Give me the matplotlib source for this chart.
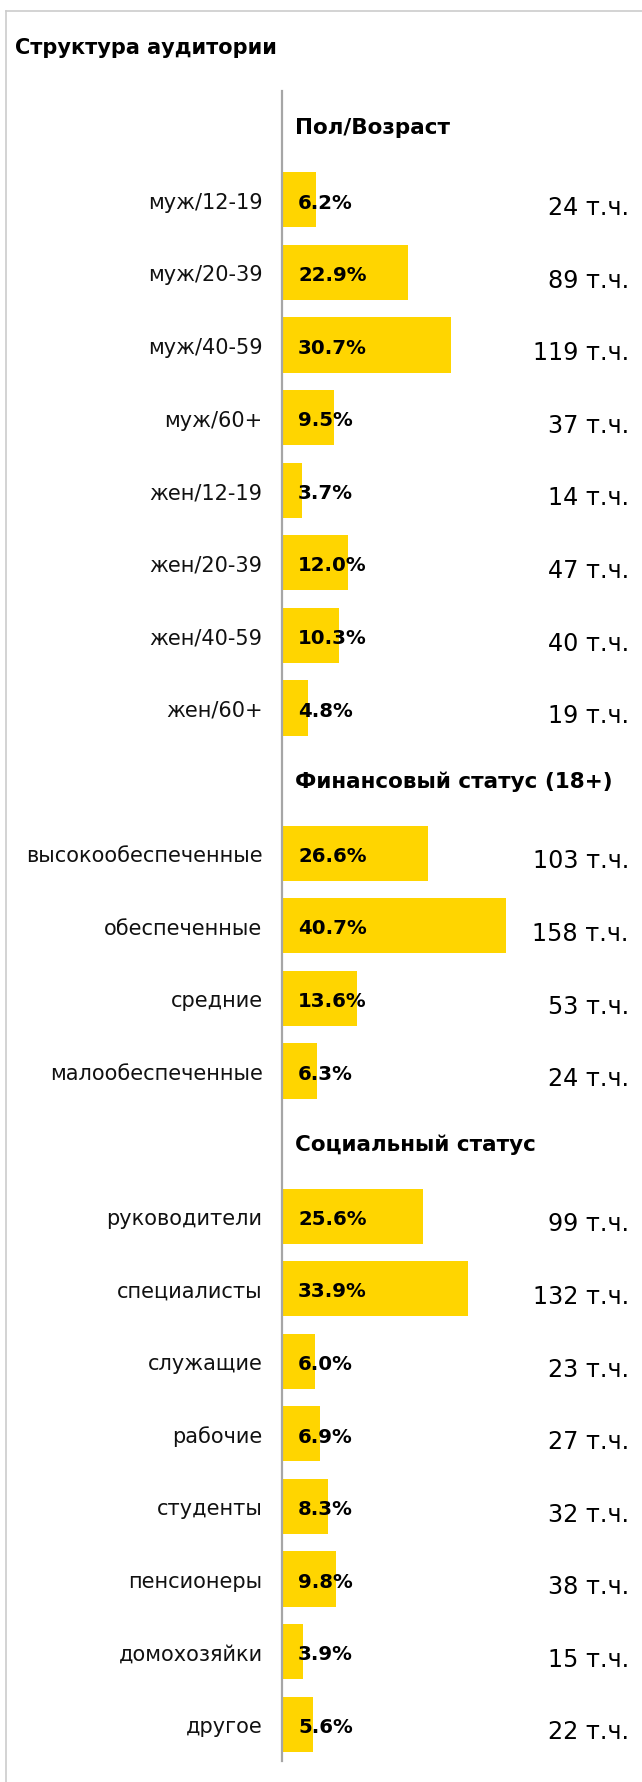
import matplotlib
matplotlib.use("Agg")
import matplotlib.pyplot as plt
import matplotlib.transforms as mtransforms
from matplotlib.lines import Line2D

# Data
title = "Структура аудитории"

sex_age_header = "Пол/Возраст"
sex_age_labels = ["муж/12-19", "муж/20-39", "муж/40-59", "муж/60+",
                  "жен/12-19", "жен/20-39", "жен/40-59", "жен/60+"]
sex_age_share = [6.2, 22.9, 30.7, 9.5, 3.7, 12.0, 10.3, 4.8]
sex_age_thous = [24, 89, 119, 37, 14, 47, 40, 19]

finance_header = "Финансовый статус (18+)"
finance_labels = ["высокообеспеченные", "обеспеченные", "средние", "малообеспеченные"]
finance_share = [26.6, 40.7, 13.6, 6.3]
finance_thous = [103, 158, 53, 24]

social_header = "Социальный статус"
social_labels = ["руководители", "специалисты", "служащие", "рабочие",
                 "студенты", "пенсионеры", "домохозяйки", "другое"]
social_share = [25.6, 33.9, 6.0, 6.9, 8.3, 9.8, 3.9, 5.6]
social_thous = [99, 132, 23, 27, 32, 38, 15, 22]

sections = [
    (sex_age_header, sex_age_labels, sex_age_share, sex_age_thous),
    (finance_header, finance_labels, finance_share, finance_thous),
    (social_header, social_labels, social_share, social_thous),
]

BAR_COLOR = "#FFD500"
W, H = 642, 1783
DPI = 100

plt.rcParams["font.family"] = ["DejaVu Sans"]

fig = plt.figure(figsize=(W / DPI, H / DPI), dpi=DPI)

# axes placement in pixels
ax_left, ax_top, ax_bottom = 282, 92, 1761.5
ax_width = W - ax_left
ax = fig.add_axes([ax_left / W, 1 - ax_bottom / H, ax_width / W, (ax_bottom - ax_top) / H])

# build rows: header slot followed by its items
rows = []
for header, labels, shares, thous in sections:
    rows.append(("header", header, None, None))
    for lab, s, t in zip(labels, shares, thous):
        rows.append(("item", lab, s, t))

n_rows = len(rows)
px_per_pct = 5.5
ax.set_xlim(0, ax_width / px_per_pct)
ax.set_ylim(n_rows - 0.5, -0.5)

item_pos = [i for i, r in enumerate(rows) if r[0] == "item"]
item_share = [rows[i][2] for i in item_pos]
ax.barh(item_pos, item_share, height=0.76, color=BAR_COLOR, edgecolor="none")

ax.set_yticks(item_pos)
ax.set_yticklabels([rows[i][1] for i in item_pos], fontsize=15, color="#111111")
ax.tick_params(axis="y", length=0, pad=14)
ax.tick_params(axis="x", bottom=False, labelbottom=False)

for side in ["top", "right", "bottom"]:
    ax.spines[side].set_visible(False)
ax.spines["left"].set_color("#a6a6a6")
ax.spines["left"].set_linewidth(1.6)

trans = mtransforms.blended_transform_factory(ax.transAxes, ax.transData)
for i, (kind, text, share, thous) in enumerate(rows):
    if kind == "header":
        ax.text(13 / ax_width, i, text, transform=trans, ha="left", va="center",
                fontsize=15.5, fontweight="bold", color="#000000")
    else:
        ax.text(16 / ax_width, i + 0.03, f"{share:.1f}%", transform=trans,
                ha="left", va="center", fontsize=14.2, fontweight="bold", color="#000000")
        ax.text((629 - ax_left) / ax_width, i + 0.1, f"{thous} т.ч.", transform=trans,
                ha="right", va="center", fontsize=17.2, color="#000000")

fig.text(15 / W, 1 - 48 / H, title, ha="left", va="center",
         fontsize=15, fontweight="bold", color="#000000")

# thin frame on top and left
fig.add_artist(Line2D([6 / W, 1], [1 - 12 / H, 1 - 12 / H], transform=fig.transFigure,
                      color="#cccccc", linewidth=1.2))
fig.add_artist(Line2D([6 / W, 6 / W], [0, 1 - 12 / H], transform=fig.transFigure,
                      color="#cccccc", linewidth=1.2))

fig.savefig("out.png", dpi=DPI)
